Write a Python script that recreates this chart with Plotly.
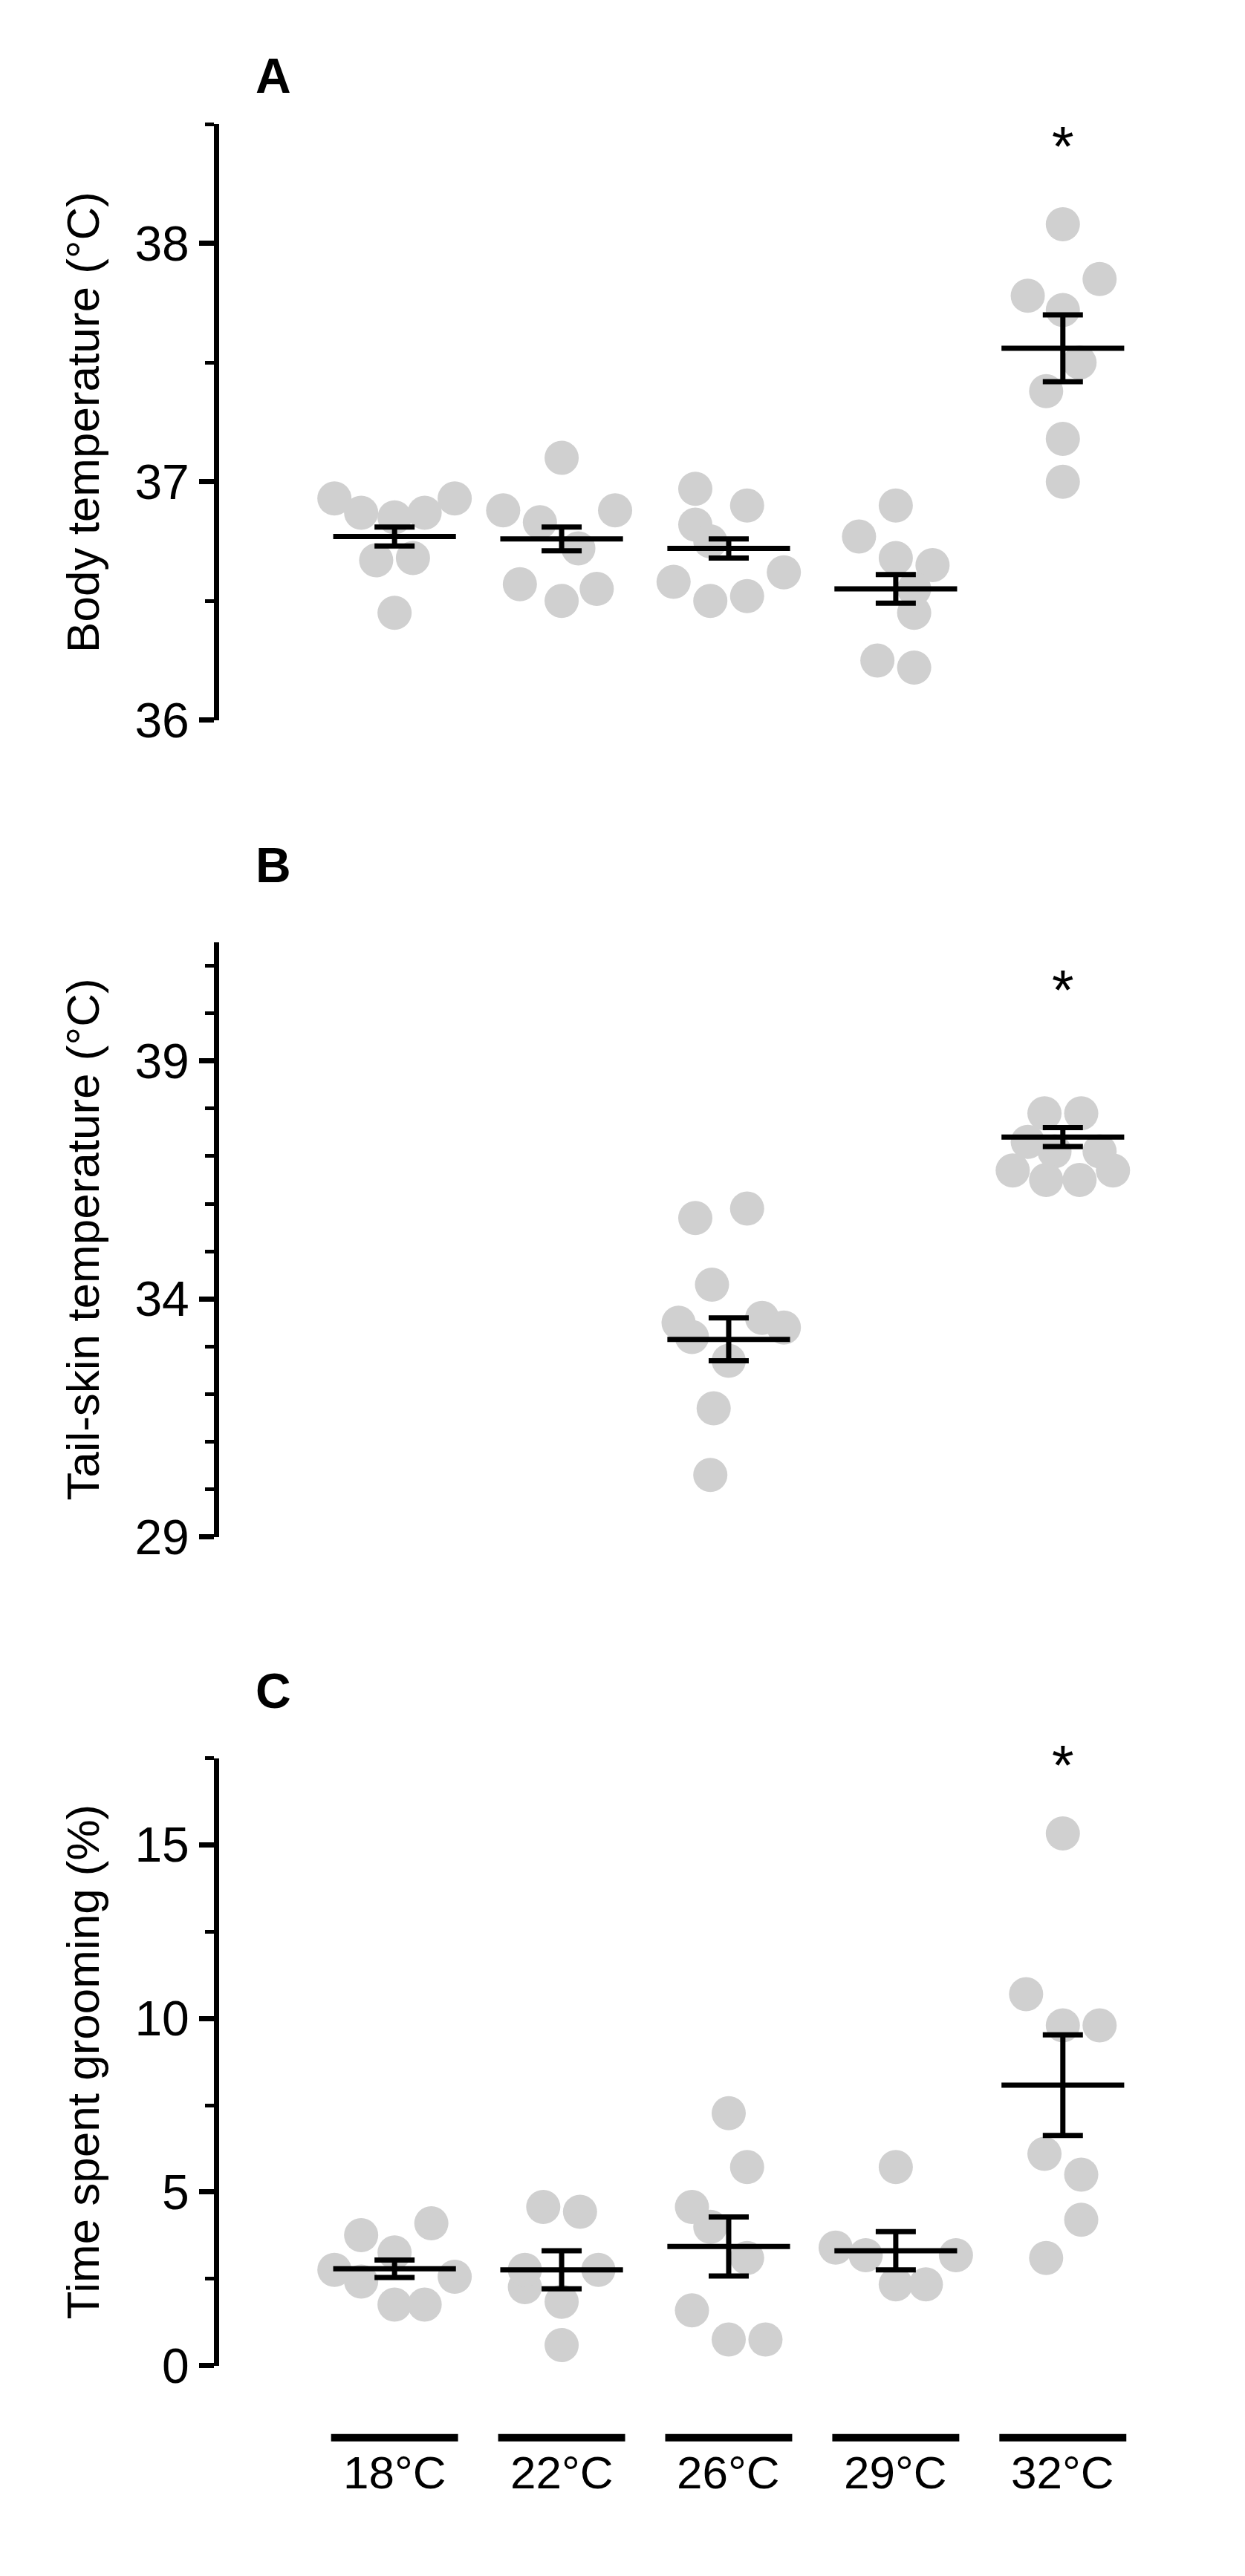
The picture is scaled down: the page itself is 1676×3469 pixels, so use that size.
import plotly.graph_objects as go

categories = ["18°C", "22°C", "26°C", "29°C", "32°C"]

# Panel A: body temperature
body_pts = [
    [36.93, 36.87, 36.85, 36.87, 36.93, 36.67, 36.68, 36.45],
    [37.10, 36.88, 36.83, 36.88, 36.72, 36.57, 36.50, 36.55],
    [36.90, 36.97, 36.82, 36.75, 36.62, 36.58, 36.50, 36.52],
    [36.90, 36.77, 36.65, 36.68, 36.55, 36.45, 36.25, 36.22],
    [38.08, 37.78, 37.85, 37.72, 37.50, 37.38, 37.18, 37.00],
]
body_mean = [36.77, 36.76, 36.72, 36.55, 37.56]
body_sem = [0.04, 0.05, 0.04, 0.06, 0.14]

# Panel B: tail-skin temperature
tail_pts = [[], [],
    [35.7, 35.9, 34.3, 33.6, 33.4, 33.2, 32.7, 31.7, 30.3, 33.5],
    [],
    [37.9, 37.9, 37.3, 37.1, 37.1, 36.7, 36.7, 36.5, 36.5]]
tail_mean = [None, None, 33.15, None, 37.4]
tail_sem = [None, None, 0.45, None, 0.2]

# Panel C: grooming
groom_pts = [
    [3.76, 4.10, 3.26, 2.76, 2.56, 2.42, 1.76, 1.76],
    [4.57, 4.43, 2.76, 2.26, 1.84, 0.59, 2.76],
    [7.27, 5.72, 4.57, 4.00, 3.10, 1.59, 0.75, 0.75],
    [5.72, 3.40, 3.18, 3.18, 2.34, 2.34],
    [15.33, 10.70, 9.80, 9.80, 6.10, 5.50, 4.20, 3.10],
]
groom_mean = [2.79, 2.76, 3.43, 3.31, 8.08]
groom_sem = [0.25, 0.55, 0.85, 0.55, 1.45]

# jitter offsets (layout, not data)
offs_A = [
    [-0.36, -0.2, 0.0, 0.18, 0.36, -0.11, 0.11, 0.0],
    [0.0, -0.35, -0.13, 0.32, 0.1, -0.25, 0.0, 0.21],
    [0.11, -0.2, -0.2, -0.11, 0.33, -0.33, -0.11, 0.11],
    [0.0, -0.22, 0.22, 0.0, 0.11, 0.11, -0.11, 0.11],
    [0.0, -0.21, 0.22, 0.0, 0.1, -0.1, 0.0, 0.0],
]
offs_B = [[], [], [-0.2, 0.11, -0.1, 0.2, 0.33, -0.22, 0.0, -0.09, -0.11, -0.3],
          [], [-0.11, 0.11, -0.21, 0.22, -0.05, -0.3, 0.3, -0.1, 0.1]]
offs_C = [
    [-0.2, 0.22, 0.0, -0.36, 0.36, -0.2, 0.0, 0.18],
    [-0.11, 0.11, 0.22, -0.22, 0.0, 0.0, -0.22],
    [0.0, 0.11, -0.22, -0.11, 0.11, -0.22, 0.0, 0.22],
    [0.0, -0.36, -0.18, 0.36, 0.0, 0.18],
    [0.0, -0.22, 0.0, 0.22, -0.11, 0.11, 0.11, -0.1],
]

GRAY = "#d0d0d0"
FONT = "Liberation Sans, Arial, sans-serif"
fig = go.Figure()

panels = [
    (body_pts, body_mean, body_sem, offs_A, "x", "y"),
    (tail_pts, tail_mean, tail_sem, offs_B, "x2", "y2"),
    (groom_pts, groom_mean, groom_sem, offs_C, "x3", "y3"),
]
for pts, mean, sem, offs, xa, ya in panels:
    for i, vals in enumerate(pts):
        if not vals:
            continue
        fig.add_trace(go.Scatter(
            x=[i + o for o in offs[i]], y=vals, mode="markers", xaxis=xa, yaxis=ya,
            marker=dict(color=GRAY, size=46, line=dict(width=0)), showlegend=False))
    xi = [i for i, m in enumerate(mean) if m is not None]
    fig.add_trace(go.Scatter(
        x=xi, y=[mean[i] for i in xi], mode="markers", xaxis=xa, yaxis=ya,
        marker=dict(symbol="line-ew", size=118, color="black", line=dict(width=7, color="black")),
        error_y=dict(type="data", array=[sem[i] for i in xi], color="black", thickness=7, width=27),
        showlegend=False))

xcommon = dict(range=[-1.05, 4.45], visible=False, fixedrange=True)
ycommon = dict(showline=True, linewidth=7, linecolor="black", ticks="outside", ticklen=20,
               tickwidth=7, tickcolor="black", showgrid=False, zeroline=False,
               tickfont=dict(size=66, family=FONT, color="black"),
               title_font=dict(size=62, family=FONT, color="black"), title_standoff=30)

fig.update_layout(
    width=1676, height=3469, margin=dict(l=287, r=152, t=0, b=0),
    plot_bgcolor="white", paper_bgcolor="white",
    xaxis=dict(domain=[0, 1], anchor="y", **xcommon),
    xaxis2=dict(domain=[0, 1], anchor="y2", **xcommon),
    xaxis3=dict(domain=[0, 1], anchor="y3", **xcommon),
    yaxis=dict(domain=[0.7198, 0.9536], range=[36, 38.5], tickvals=[36, 37, 38],
               minor=dict(dtick=0.5, ticks="outside", ticklen=12, tickwidth=5, tickcolor="black"),
               title_text="Body temperature (°C)", anchor="x", **ycommon),
    yaxis2=dict(domain=[0.3993, 0.6327], range=[29, 41.5], tickvals=[29, 34, 39],
                minor=dict(dtick=1, ticks="outside", ticklen=12, tickwidth=5, tickcolor="black"),
                title_text="Tail-skin temperature (°C)", anchor="x2", **ycommon),
    yaxis3=dict(domain=[0.0741, 0.3125], range=[0, 17.5], tickvals=[0, 5, 10, 15],
                minor=dict(dtick=2.5, ticks="outside", ticklen=12, tickwidth=5, tickcolor="black"),
                title_text="Time spent grooming (%)", anchor="x3", **ycommon),
)

# asterisks
for ya, yv in [("y", 38.41), ("y2", 40.5), ("y3", 17.3)]:
    fig.add_annotation(x=4, y=yv, xref=ya.replace("y", "x"), yref=ya, text="*", showarrow=False,
                       font=dict(size=76, family=FONT, color="black"))

# panel letters
for lab, yp in [("A", 0.9726), ("B", 0.663), ("C", 0.339)]:
    fig.add_annotation(x=0.059, y=yp, xref="paper", yref="paper", text=f"<b>{lab}</b>",
                       showarrow=False, xanchor="center", yanchor="middle",
                       font=dict(size=66, family=FONT, color="black"))

# category lines and labels
for i, c in enumerate(categories):
    fig.add_shape(type="line", x0=i - 0.38, x1=i + 0.38, y0=1 - 3310 / 3469, y1=1 - 3310 / 3469,
                  xref="x3", yref="paper", line=dict(color="black", width=10))
    fig.add_annotation(x=i, y=1 - 3394 / 3469, xref="x3", yref="paper", text=c, showarrow=False,
                       font=dict(size=62, family=FONT, color="black"))

fig.write_html("out.html")
